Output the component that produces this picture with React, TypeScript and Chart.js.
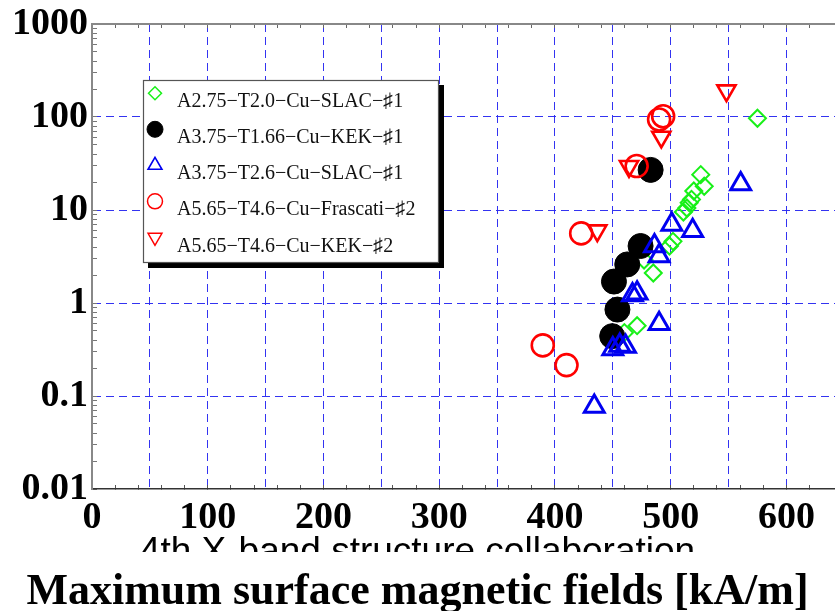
import React, { useEffect, useRef } from "react";
import { Chart, registerables } from "chart.js";
import { drawPoint } from "chart.js/helpers";

Chart.register(...registerables);

// ---------- data ----------
const SERIES_LABELS = [
  "A2.75−T2.0−Cu−SLAC−♯1",
  "A3.75−T1.66−Cu−KEK−♯1",
  "A3.75−T2.6−Cu−SLAC−♯1",
  "A5.65−T4.6−Cu−Frascati−♯2",
  "A5.65−T4.6−Cu−KEK−♯2",
];

const SLAC1_X = [460, 471, 477, 485, 499, 502, 511, 514, 516, 518, 520, 526, 529, 575];
const SLAC1_Y = [0.48, 0.57, 2.9, 2.1, 4.1, 4.6, 9.5, 10.5, 12, 13, 16, 24, 18, 97];

const KEK1_X = [449.5, 454, 451, 462.5, 474, 482.7];
const KEK1_Y = [0.44, 0.85, 1.7, 2.6, 4.1, 27];

const SLAC2_X = [434, 450, 456, 461, 467, 471, 490, 486, 490, 501, 519, 560.5];
const SLAC2_Y = [0.077, 0.32, 0.35, 0.34, 1.22, 1.27, 0.6, 4.1, 3.2, 7.0, 6.0, 19];

const FRASCATI_X = [389.5, 410, 422.7, 470.6, 490, 493.5];
const FRASCATI_Y = [0.35, 0.215, 5.6, 29.7, 94, 102];

const KEK2_X = [436.6, 464, 491.9, 548.2];
const KEK2_Y = [6.0, 29.5, 61, 192];

const X_TICK_LABELS = ["0", "100", "200", "300", "400", "500", "600"];
const Y_TICK_LABELS = ["0.01", "0.1", "1", "10", "100", "1000"];

const SUBTITLE = "4th X-band structure collaboration";
const X_TITLE = "Maximum surface magnetic fields [kA/m]";

// ---------- styles ----------
const SERIF = "'Liberation Serif', 'Times New Roman', serif";
const SANS = "'Liberation Sans', Arial, sans-serif";
const GRID_BLUE = "rgba(40,40,240,0.95)";

const STYLES = [
  { pointStyle: "rectRot", rotation: 0, radius: 8.5, color: "#18f018", fill: false, bw: 2, lr: 6.5, lbw: 1.5 },
  { pointStyle: "circle", rotation: 0, radius: 12.5, color: "#000000", fill: true, bw: 1, lr: 8, lbw: 1 },
  { pointStyle: "triangle", rotation: 0, radius: 11.5, color: "#0000f0", fill: false, bw: 3, lr: 8, lbw: 1.6 },
  { pointStyle: "circle", rotation: 0, radius: 11, color: "#ff0000", fill: false, bw: 2.6, lr: 7.5, lbw: 1.5 },
  { pointStyle: "triangle", rotation: 180, radius: 10.5, color: "#ff0000", fill: false, bw: 2.6, lr: 8, lbw: 1.5 },
];

const SERIES_X = [SLAC1_X, KEK1_X, SLAC2_X, FRASCATI_X, KEK2_X];
const SERIES_Y = [SLAC1_Y, KEK1_Y, SLAC2_Y, FRASCATI_Y, KEK2_Y];

const pts = (xs: number[], ys: number[]) => xs.map((x, i) => ({ x, y: ys[i] }));

const isMult = (v: number, m: number) => Math.abs(v / m - Math.round(v / m)) < 1e-6;
const isDecade = (v: number) => {
  const l = Math.log10(v);
  return Math.abs(l - Math.round(l)) < 1e-6;
};
const isIntSignificand = (v: number) => {
  const e = Math.floor(Math.log10(v) + 1e-9);
  const m = v / Math.pow(10, e);
  return Math.abs(m - Math.round(m)) < 1e-6;
};

const zeroPad = (s: any) => {
  s.paddingLeft = 0;
  s.paddingRight = 0;
  s.paddingTop = 0;
  s.paddingBottom = 0;
};

const legendPlugin = {
  id: "boxLegend",
  afterDraw(chart: any) {
    const ctx = chart.ctx as CanvasRenderingContext2D;
    // the lower part of the subtitle is cut off in the original
    ctx.save();
    ctx.fillStyle = "#ffffff";
    ctx.fillRect(0, 552, chart.width, 20);
    ctx.restore();

    const L = 143, T = 80, R = 439, B = 263, SH = 5;
    ctx.save();
    ctx.fillStyle = "#000";
    ctx.fillRect(L + SH, T + SH, R - L, B - T);
    ctx.fillStyle = "#fff";
    ctx.fillRect(L, T, R - L, B - T);
    ctx.strokeStyle = "#555";
    ctx.lineWidth = 1.2;
    ctx.strokeRect(L + 0.5, T + 0.5, R - L - 1, B - T - 1);

    SERIES_LABELS.forEach((label, i) => {
      const st = STYLES[i];
      const my = 93.3 + i * 36;
      ctx.save();
      ctx.strokeStyle = st.color;
      ctx.fillStyle = st.fill ? st.color : "rgba(0,0,0,0)";
      ctx.lineWidth = st.lbw;
      drawPoint(ctx, { pointStyle: st.pointStyle, rotation: st.rotation, radius: st.lr, borderWidth: st.lbw } as any, 155, my);
      ctx.restore();
      ctx.fillStyle = "#111";
      ctx.font = `20px ${SERIF}`;
      ctx.textAlign = "left";
      ctx.textBaseline = "alphabetic";
      ctx.fillText(label, 177, 106.7 + i * 36.25);
    });
    ctx.restore();
  },
};

export default function App() {
  const ref = useRef<HTMLCanvasElement | null>(null);

  useEffect(() => {
    if (!ref.current) return;
    const datasets = SERIES_LABELS.map((label, i) => {
      const st = STYLES[i];
      return {
        label,
        data: pts(SERIES_X[i], SERIES_Y[i]),
        pointStyle: st.pointStyle,
        pointRotation: st.rotation,
        pointRadius: st.radius,
        pointHoverRadius: st.radius,
        borderColor: st.color,
        backgroundColor: st.fill ? st.color : "rgba(0,0,0,0)",
        pointBorderWidth: st.bw,
        borderWidth: st.bw,
        showLine: false,
        order: SERIES_LABELS.length - i,
      };
    });

    const tickFont = { family: SERIF, size: 38, weight: "bold" as const };

    const chart = new Chart(ref.current, {
      type: "scatter",
      data: { datasets },
      plugins: [legendPlugin],
      options: {
        animation: false,
        responsive: false,
        maintainAspectRatio: false,
        layout: { padding: 0, autoPadding: false },
        plugins: {
          legend: { display: false },
          tooltip: { enabled: false },
          subtitle: {
            display: true,
            position: "bottom",
            text: SUBTITLE,
            color: "#000",
            font: { family: SANS, size: 37, weight: "normal", lineHeight: 1 },
            padding: { top: 3, bottom: 0 },
          },
          title: {
            display: true,
            position: "bottom",
            text: X_TITLE,
            color: "#000",
            font: { family: SERIF, size: 44, weight: "bold", lineHeight: 0.6 },
            padding: { top: 8.6, bottom: 5 },
          },
        },
        scales: {
          x: {
            type: "linear",
            position: "bottom",
            min: 0,
            max: 642,
            afterFit: (s: any) => {
              s.height = 42;
              zeroPad(s);
            },
            ticks: {
              stepSize: 10,
              autoSkip: false,
              maxRotation: 0,
              padding: 10,
              color: "#000",
              font: tickFont,
              callback: (v: any) => {
                const n = Number(v);
                return isMult(n, 100) ? X_TICK_LABELS[Math.round(n / 100)] ?? "" : "";
              },
            },
            grid: {
              color: (c: any) => {
                const v = c.tick?.value;
                return v !== undefined && v > 0 && v < 640 && isMult(v, 50) ? GRID_BLUE : "rgba(0,0,0,0)";
              },
              tickColor: (c: any) => {
                const v = c.tick?.value;
                return v !== undefined && isMult(v, 20) ? "#555" : "rgba(0,0,0,0)";
              },
              tickLength: -4,
              lineWidth: 1,
            },
            border: { display: true, color: "#333", width: 1.6, dash: [8, 5] },
          },
          x2: {
            type: "linear",
            position: "top",
            min: 0,
            max: 642,
            afterFit: (s: any) => {
              s.height = 24;
              zeroPad(s);
            },
            ticks: { display: false, stepSize: 10, autoSkip: false },
            grid: {
              drawOnChartArea: false,
              tickColor: (c: any) => {
                const v = c.tick?.value;
                return v !== undefined && isMult(v, 20) ? "#666" : "rgba(0,0,0,0)";
              },
              tickLength: -4,
            },
            border: { display: true, color: "#888", width: 2 },
          },
          y: {
            type: "logarithmic",
            position: "left",
            min: 0.01,
            max: 1000,
            afterFit: (s: any) => {
              s.width = 92;
              zeroPad(s);
            },
            ticks: {
              autoSkip: false,
              padding: 9,
              color: "#000",
              font: tickFont,
              callback: (v: any) => {
                const n = Number(v);
                if (!isDecade(n)) return "";
                return Y_TICK_LABELS[Math.round(Math.log10(n)) + 2] ?? "";
              },
            },
            grid: {
              color: (c: any) => {
                const v = c.tick?.value;
                return v !== undefined && isDecade(v) && v > 0.011 && v < 999 ? GRID_BLUE : "rgba(0,0,0,0)";
              },
              tickColor: (c: any) => {
                const v = c.tick?.value;
                return v !== undefined && isIntSignificand(v) ? "#777" : "rgba(0,0,0,0)";
              },
              tickLength: -5,
              lineWidth: 1,
            },
            border: { display: true, color: "#888", width: 2, dash: [8, 5] },
          },
        },
      } as any,
    });

    return () => chart.destroy();
  }, []);

  return (
    <div style={{ position: "absolute", left: 0, top: 0, width: 835, height: 611, background: "#fff" }}>
      <canvas ref={ref} width={835} height={611} style={{ display: "block" }} />
    </div>
  );
}
